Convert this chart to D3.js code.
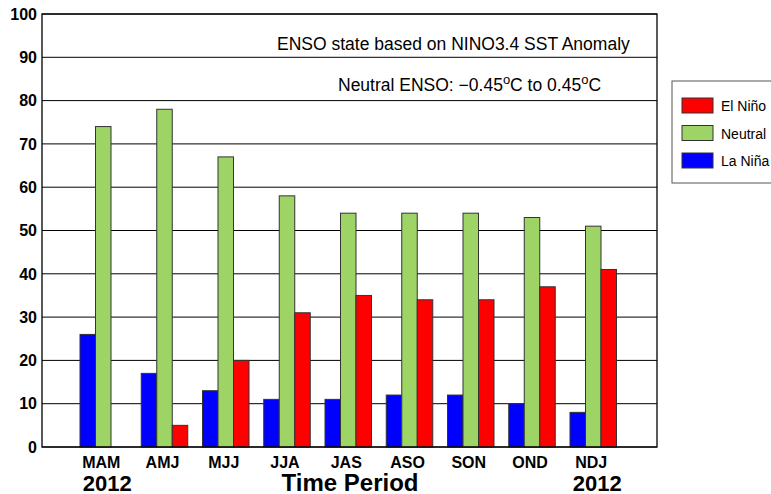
<!DOCTYPE html>
<html>
<head>
<meta charset="utf-8">
<script src="https://cdn.jsdelivr.net/npm/d3@7"></script>
<style>
  body { margin: 0; background: #fff; }
  svg { display: block; font-family: "Liberation Sans", Arial, Helvetica, sans-serif; }
</style>
</head>
<body>
<svg id="chart" width="771" height="494"></svg>
<script>
// seasons (3-month periods)
const periods = ["MAM", "AMJ", "MJJ", "JJA", "JAS", "ASO", "SON", "OND", "NDJ"];
const laNina  = [26, 17, 13, 11, 11, 12, 12, 10, 8];
const neutral = [74, 78, 67, 58, 54, 54, 54, 53, 51];
const elNino  = [0, 5, 20, 31, 35, 34, 34, 37, 41];
const yTicks  = [0, 10, 20, 30, 40, 50, 60, 70, 80, 90, 100];

const colors = {laNina: "#0000ff", neutral: "#9ed465", elNino: "#ff0000"};

const plotLeft = 42, plotRight = 657, plotTop = 14, plotBottom = 447;
const step = 61.25, bw = 15.5;

const svg = d3.select("#chart");

const y = d3.scaleLinear().domain([0, 100]).range([plotBottom, plotTop]);
const x = d3.scalePoint().domain(periods).range([plotLeft + step, plotLeft + step * 9]);

// grid lines
svg.append("g")
    .selectAll("line")
    .data(yTicks)
    .enter()
    .append("line")
    .attr("x1", plotLeft).attr("x2", plotRight)
    .attr("y1", d => y(d)).attr("y2", d => y(d))
    .attr("stroke", "#000")
    .attr("stroke-width", 1);

// bars: blue, green, red side by side
let series = [
    {key: "laNina", values: laNina, off: -1.5},
    {key: "neutral", values: neutral, off: -0.5},
    {key: "elNino", values: elNino, off: 0.5}
];

series.forEach(function (s) {
    svg.append("g")
        .selectAll("rect")
        .data(s.values.map((v, i) => ({p: periods[i], v: v})).filter(d => d.v > 0))
        .enter()
        .append("rect")
        .attr("x", d => x(d.p) + s.off * bw)
        .attr("y", d => y(d.v))
        .attr("width", bw)
        .attr("height", d => y(0) - y(d.v))
        .attr("fill", colors[s.key])
        .attr("stroke", "#333")
        .attr("stroke-width", 1);
});

// frame
svg.append("rect")
    .attr("x", plotLeft).attr("y", plotTop)
    .attr("width", plotRight - plotLeft).attr("height", plotBottom - plotTop)
    .attr("fill", "none")
    .attr("stroke", "#000")
    .attr("stroke-width", 1.3);

// y tick labels
svg.append("g")
    .selectAll("text")
    .data(yTicks)
    .enter()
    .append("text")
    .attr("x", plotLeft - 5)
    .attr("y", d => y(d))
    .attr("dy", "0.36em")
    .attr("text-anchor", "end")
    .attr("font-size", 16)
    .attr("font-weight", "bold")
    .text(d => d);

// x labels
svg.append("g")
    .selectAll("text")
    .data(periods)
    .enter()
    .append("text")
    .attr("x", d => x(d) - 2)
    .attr("y", 468)
    .attr("text-anchor", "middle")
    .attr("font-size", 16)
    .attr("font-weight", "bold")
    .text(d => d);

["MAM", "NDJ"].forEach(function (p) {
    svg.append("text")
        .attr("x", x(p) + 4)
        .attr("y", 491)
        .attr("text-anchor", "middle")
        .attr("font-size", 22)
        .attr("font-weight", "bold")
        .text("2012");
});

svg.append("text")
    .attr("x", 350)
    .attr("y", 491)
    .attr("text-anchor", "middle")
    .attr("font-size", 24)
    .attr("font-weight", "bold")
    .text("Time Period");

// annotations
svg.append("text")
    .attr("x", 277).attr("y", 50)
    .attr("font-size", 17.5)
    .text("ENSO state based on NINO3.4 SST Anomaly");

let note = svg.append("text")
    .attr("x", 338).attr("y", 91)
    .attr("font-size", 17.5);
note.append("tspan").text("Neutral ENSO: \u22120.45");
note.append("tspan").attr("dy", -7).attr("font-size", 13).text("o");
note.append("tspan").attr("dy", 7).text("C to 0.45");
note.append("tspan").attr("dy", -7).attr("font-size", 13).text("o");
note.append("tspan").attr("dy", 7).text("C");

// legend
let legend = svg.append("g");
legend.append("rect")
    .attr("x", 672).attr("y", 81)
    .attr("width", 130).attr("height", 102)
    .attr("fill", "#fff")
    .attr("stroke", "#555")
    .attr("stroke-width", 1);

let legendItems = [
    {key: "elNino", label: "El Niño"},
    {key: "neutral", label: "Neutral"},
    {key: "laNina", label: "La Niña"}
];

legendItems.forEach(function (d, i) {
    legend.append("rect")
        .attr("x", 682).attr("y", 98 + i * 27.5)
        .attr("width", 31).attr("height", 15)
        .attr("fill", colors[d.key])
        .attr("stroke", "#333");
    legend.append("text")
        .attr("x", 721).attr("y", 111 + i * 27.5)
        .attr("font-size", 14)
        .text(d.label);
});
</script>
</body>
</html>
